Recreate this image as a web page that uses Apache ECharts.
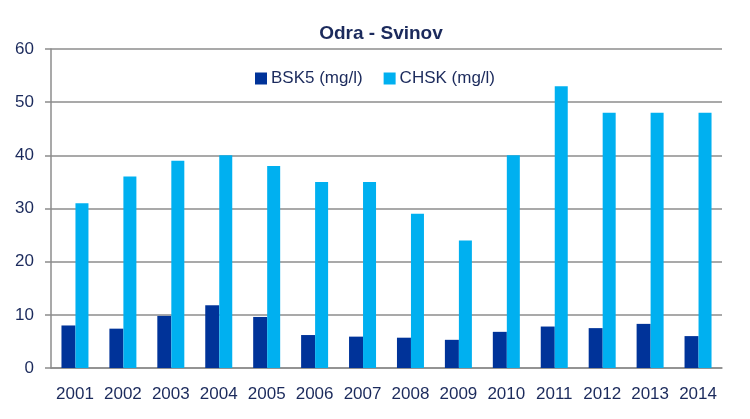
<!DOCTYPE html>
<html><head><meta charset="utf-8">
<script src="https://cdn.jsdelivr.net/npm/echarts@6/dist/echarts.min.js"></script>
<style>html,body{margin:0;padding:0;background:#fff}#c{width:750px;height:419px}</style>
</head><body><div id="c"></div>
<script>
const years = ['2001','2002','2003','2004','2005','2006','2007','2008','2009','2010','2011','2012','2013','2014'];
const bsk5 = [8, 7.4, 9.8, 11.8, 9.6, 6.2, 5.9, 5.7, 5.3, 6.8, 7.8, 7.5, 8.3, 6.0];
const chsk = [31, 36, 39, 40, 38, 35, 35, 29, 24, 40, 53, 48, 48, 48];
const seriesNames = ['BSK5 (mg/l)', 'CHSK (mg/l)'];
const textColor = '#1B2A5C';
const labelFont = "'Liberation Sans', Arial, sans-serif";
const chart = echarts.init(document.getElementById('c'));
chart.setOption({
  animation: false,
  title: { text: 'Odra - Svinov', left: 376, top: 19, textAlign: 'center',
    textStyle: { fontFamily: 'Liberation Sans', fontWeight: 'bold', fontSize: 19, color: textColor } },
  legend: { top: 65, left: 'center', itemWidth: 12, itemHeight: 12, itemGap: 21, icon: 'rect',
    textStyle: { fontFamily: labelFont, fontSize: 17, color: textColor, padding: [0, 0, 0, -1] },
    data: seriesNames },
  grid: { left: 51, right: 28, top: 49, bottom: 51, containLabel: false },
  xAxis: { type: 'category', data: years,
    axisLine: { lineStyle: { color: '#8c8c8c', width: 1.5 } },
    axisTick: { show: false },
    axisLabel: { interval: 0, margin: 18, fontFamily: labelFont, fontSize: 17, color: textColor } },
  yAxis: { type: 'value', min: 0, max: 60, interval: 10,
    axisLine: { show: true, lineStyle: { color: '#8c8c8c', width: 1.5 } },
    axisTick: { show: true, length: 6, lineStyle: { color: '#8c8c8c', width: 1.5 } },
    splitLine: { lineStyle: { color: '#8c8c8c', width: 1.5 } },
    axisLabel: { margin: 17, fontFamily: labelFont, fontSize: 17, color: textColor } },
  series: [
    { name: seriesNames[0], type: 'bar', data: bsk5, barWidth: 14, barGap: '0%', itemStyle: { color: '#003399' } },
    { name: seriesNames[1], type: 'bar', data: chsk, barWidth: 13, barGap: '0%', itemStyle: { color: '#00B0F0' } }
  ]
});
</script></body></html>
